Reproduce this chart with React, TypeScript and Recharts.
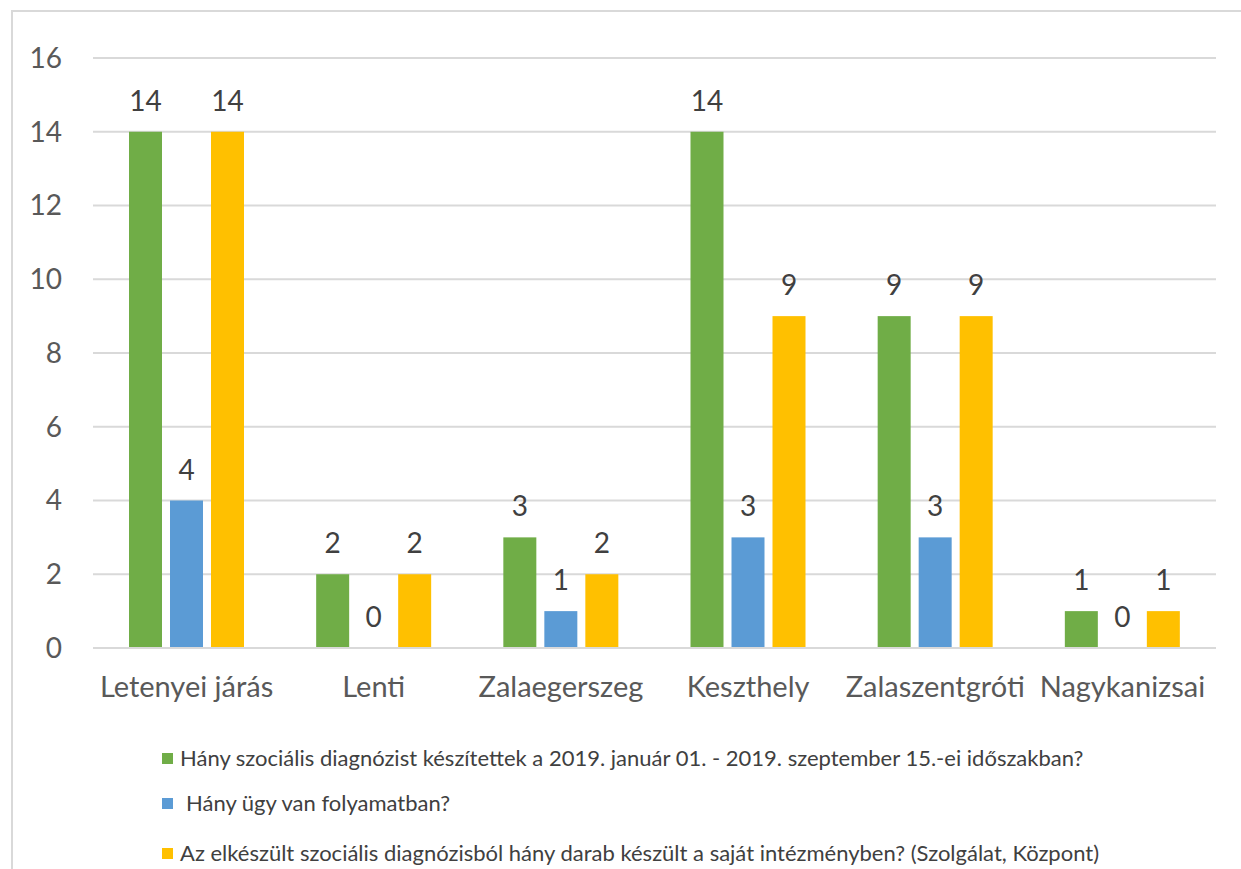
import { BarChart, Bar, CartesianGrid, XAxis, YAxis } from 'recharts'

const categories = ['Letenyei járás', 'Lenti', 'Zalaegerszeg', 'Keszthely', 'Zalaszentgróti', 'Nagykanizsai']
const diagnoses = [14, 2, 3, 14, 9, 1]
const inProgress = [4, 0, 1, 3, 3, 0]
const ownInstitution = [14, 2, 2, 9, 9, 1]
const yTicks = [0, 2, 4, 6, 8, 10, 12, 14, 16]

const series = [
    { key: 'diagnoses', color: '#70AD47', name: 'Hány szociális diagnózist készítettek a 2019. január 01. - 2019. szeptember 15.-ei időszakban?' },
    { key: 'inProgress', color: '#5B9BD5', name: 'Hány ügy van folyamatban?' },
    { key: 'ownInstitution', color: '#FFC000', name: 'Az elkészült szociális diagnózisból hány darab készült a saját intézményben? (Szolgálat, Központ)' },
]

const data = categories.map((name, i) => ({
    name,
    diagnoses: diagnoses[i],
    inProgress: inProgress[i],
    ownInstitution: ownInstitution[i],
}))

const font = 'Lato, "Open Sans", sans-serif'

// bar with its value written above it (zero bars still get a "0")
function labelledShape(key: string, color: string) {
    return (props: any) => {
        const { x, y, width, height, payload } = props
        return (
            <g>
                {height > 0 && <rect x={x} y={y} width={width} height={height} fill={color} />}
                <text x={x + width / 2} y={y - 21} textAnchor="middle" fill="#404040" fontSize={28} fontFamily={font}>
                    {payload[key]}
                </text>
            </g>
        )
    }
}

export default function App() {
    return (
        <div style={{ position: 'absolute', left: 0, top: 0, width: 1241, height: 869, overflow: 'hidden', background: '#fff', fontFamily: font }}>
            <div style={{ position: 'absolute', left: 11, top: 10, width: 1250, height: 880, border: '2px solid #d9d9d9', boxSizing: 'border-box' }} />
            <div style={{ position: 'absolute', left: 0, top: 0 }}>
                <BarChart
                    width={1241}
                    height={730}
                    data={data}
                    margin={{ top: 58, right: 25, left: 0, bottom: 30 }}
                    barSize={33}
                    barGap={8}
                    barCategoryGap={36}
                >
                    <CartesianGrid vertical={false} stroke="#d9d9d9" strokeWidth={2} />
                    <XAxis
                        dataKey="name"
                        height={52}
                        tickLine={false}
                        axisLine={{ stroke: '#d9d9d9', strokeWidth: 2 }}
                        tick={{ fill: '#595959', fontSize: 29, fontFamily: font }}
                        tickMargin={22}
                        interval={0}
                    />
                    <YAxis
                        width={93}
                        domain={[0, 16]}
                        ticks={yTicks}
                        axisLine={false}
                        tickLine={false}
                        tickSize={0}
                        tickMargin={31}
                        tick={{ fill: '#595959', fontSize: 28, fontFamily: font }}
                    />
                    {series.map(s => (
                        <Bar key={s.key} dataKey={s.key} fill={s.color} isAnimationActive={false} shape={labelledShape(s.key, s.color)} />
                    ))}
                </BarChart>
            </div>
            <div style={{ position: 'absolute', left: 162, top: 743, fontSize: 22, color: '#404040', lineHeight: '30px' }}>
                {series.map((s, i) => (
                    <div key={s.key} style={{ display: 'flex', alignItems: 'center', marginBottom: i === 0 ? 15 : 20 }}>
                        <span style={{ display: 'inline-block', width: 11, height: 11, background: s.color, marginRight: i === 1 ? 13 : 7 }} />
                        <span>{s.name}</span>
                    </div>
                ))}
            </div>
        </div>
    )
}
